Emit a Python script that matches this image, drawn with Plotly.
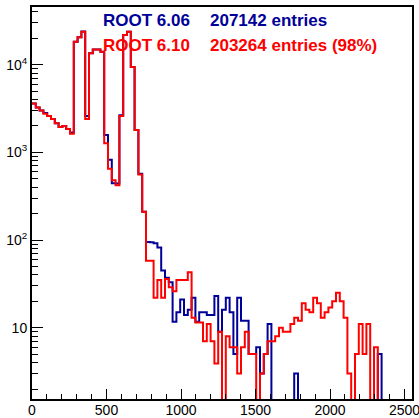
import plotly.graph_objects as go

# ---- data ----
n_bins = 100
x_min, x_max = 0.0, 2550.0

red_counts = [
    3600, 3250, 3000, 2750, 2600, 2400, 2150, 1950, 2000, 1850, 1630,
    18200, 20500, 23700,
    2400,
    13450, 14900, 14900, 14000,
    1270, 650, 480, 420,
    2600, 21700, 23700, 9400, 1800, 560,
    210,
    58, 58, 22, 35, 22, 36, 29, 26, 35, 35, 35, 43,
    13, 11.5, 11.5, 7, 11, 7, 3.9, 9, 0,
    8, 6, 6, 3, 6, 9, 5, 5, 0,
    3, 5, 7, 7, 8, 10, 9, 9, 11, 13, 12, 19, 16, 15, 22, 19, 13, 15, 17, 20,
    25, 20, 13, 3, 0, 5, 11, 5, 11, 0, 6,
    0, 0, 0, 0, 0, 0, 0, 0, 0,
]

blue_counts = [
    3600, 3250, 3000, 2800, 2600, 2400, 2150, 1950, 2000, 1850, 1680,
    18200, 20500, 23900,
    2600,
    13450, 14900, 14900, 14000,
    1580, 820, 445, 440,
    2650, 21700, 23700, 9400, 1800, 570,
    210,
    95, 94, 92, 82, 45, 37, 33, 11.7, 15, 21, 14, 16, 22, 11.7, 15, 15, 14, 14,
    23, 9, 16, 22, 15, 5, 22, 12, 12, 5, 5, 6,
    3, 5, 11,
    0, 0, 0, 0, 0, 0, 3,
    0, 0, 0, 0, 0, 0, 0, 0, 0, 0, 0, 0, 0, 0, 0, 0, 0, 0, 0, 0, 0,
    5,
    0, 0, 0, 0, 0, 0, 0, 0,
]

legend_labels = ["ROOT 6.06", "ROOT 6.10"]
legend_entries = ["207142 entries", "203264 entries (98%)"]
series_colors = ["#000099", "#ff0000"]

x_tickvals = [0, 500, 1000, 1500, 2000, 2500]
y_tickvals = [10, 100, 1000, 10000]
y_ticktext = ["10", "10<sup>2</sup>", "10<sup>3</sup>", "10<sup>4</sup>"]

# ---- build steps ----
bw = (x_max - x_min) / n_bins
edges = [x_min + i * bw for i in range(n_bins + 1)]
floor_val = 0.3  # zero bins are drawn down to the bottom of the frame


def step(counts):
    ys = [c if c > 0 else floor_val for c in counts]
    return edges, ys + [ys[-1]]


fig = go.Figure()
for counts, col in [(blue_counts, series_colors[0]), (red_counts, series_colors[1])]:
    xs, ys = step(counts)
    fig.add_trace(go.Scatter(x=xs, y=ys, mode="lines", line=dict(shape="hv", color=col, width=2),
                             showlegend=False, hoverinfo="skip"))

font_fam = "Liberation Sans, Arial, sans-serif"
rows_y = [0.966, 0.902]
for i in range(2):
    fig.add_annotation(x=0.1816, y=rows_y[i], xref="paper", yref="paper", xanchor="left", yanchor="middle",
                       text=legend_labels[i], showarrow=False,
                       font=dict(family=font_fam, size=17, color=series_colors[i], weight="bold"))
    fig.add_annotation(x=0.4624, y=rows_y[i], xref="paper", yref="paper", xanchor="left", yanchor="middle",
                       text=legend_entries[i], showarrow=False,
                       font=dict(family=font_fam, size=17, color=series_colors[i], weight="bold"))

fig.update_xaxes(range=[x_min, x_max], showgrid=False, zeroline=False, automargin=False,
                 showline=True, mirror=True, linecolor="black", linewidth=2,
                 ticks="inside", ticklen=10, tickwidth=1, tickcolor="black",
                 tickvals=x_tickvals, tickfont=dict(family=font_fam, size=14, color="black"),
                 ticklabelstandoff=-3, ticklabeloverflow="allow",
                 minor=dict(ticks="inside", ticklen=5, dtick=100, tickcolor="black", tickwidth=1))
fig.update_yaxes(type="log", range=[0.187, 4.657], showgrid=False, zeroline=False, automargin=False,
                 showline=True, mirror=True, linecolor="black", linewidth=2,
                 ticks="inside", ticklen=11, tickwidth=1, tickcolor="black",
                 tickvals=y_tickvals, ticktext=y_ticktext,
                 tickfont=dict(family=font_fam, size=14, color="black"),
                 minor=dict(ticks="inside", ticklen=6, dtick="D1", tickcolor="black", tickwidth=1))

fig.update_layout(width=419, height=418, margin=dict(l=32, r=7, t=7, b=19),
                  paper_bgcolor="white", plot_bgcolor="white")

fig.write_html("out.html", config={"displayModeBar": False},
               post_script="document.body.style.margin='0';document.body.style.overflow='hidden';")
